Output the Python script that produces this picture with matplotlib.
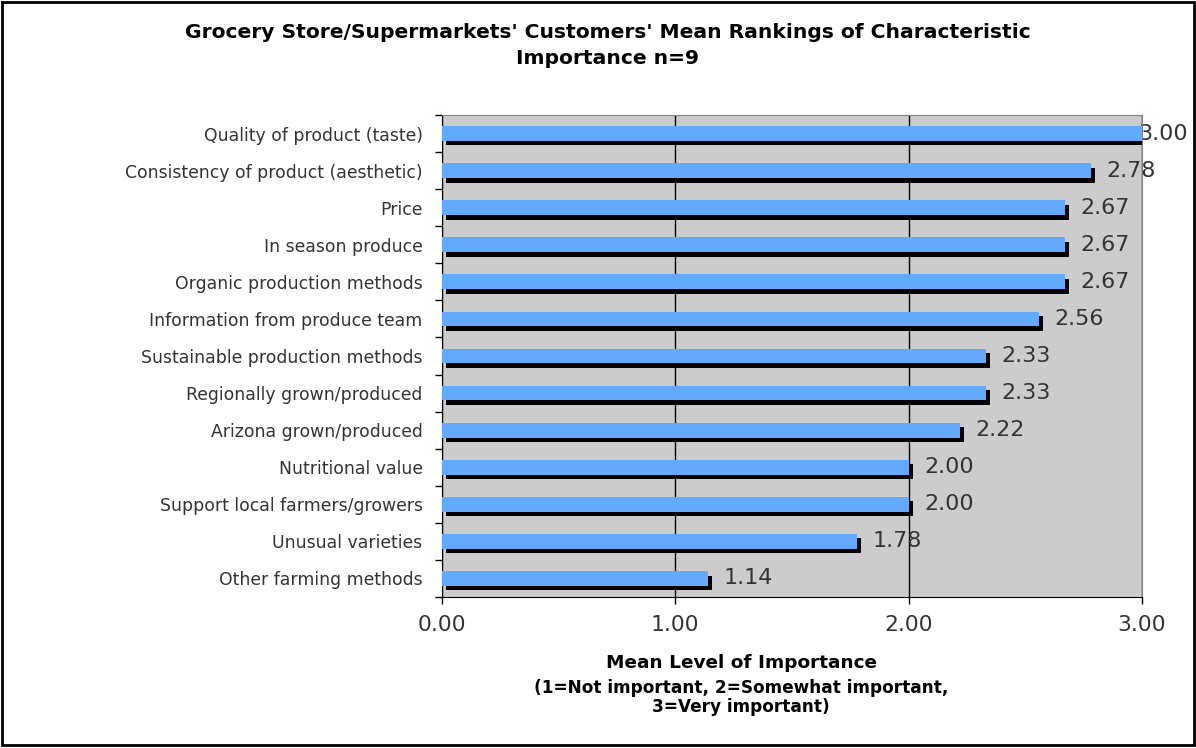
import matplotlib.pyplot as plt
import matplotlib.transforms as mtransforms

# ==== Data ====
categories = [
    "Quality of product (taste)",
    "Consistency of product (aesthetic)",
    "Price",
    "In season produce",
    "Organic production methods",
    "Information from produce team",
    "Sustainable production methods",
    "Regionally grown/produced",
    "Arizona grown/produced",
    "Nutritional value",
    "Support local farmers/growers",
    "Unusual varieties",
    "Other farming methods",
]
values = [3.00, 2.78, 2.67, 2.67, 2.67, 2.56, 2.33, 2.33, 2.22, 2.00, 2.00, 1.78, 1.14]
x_ticks = [0.0, 1.0, 2.0, 3.0]

BLUE = "#63AAFF"
GREY_BG = "#CCCCCC"
TXT = "#333333"

fig = plt.figure(figsize=(11.96, 7.48), dpi=100)
ax = fig.add_axes([442 / 1196, 151 / 748, 700 / 1196, 482 / 748])
ax.set_facecolor(GREY_BG)

# category positions, top to bottom
ypos = list(range(len(categories)))[::-1]

# shadow bars: same bars shifted right/down a few pixels
shadow = ax.transData + mtransforms.ScaledTranslation(4 / 100, -4.5 / 100, fig.dpi_scale_trans)
ax.barh(ypos, values, height=0.4, color="black", transform=shadow, zorder=2)
ax.barh(ypos, values, height=0.4, color=BLUE, zorder=3)

ax.set_xlim(0, 3)
ax.set_ylim(-0.5, len(categories) - 0.5)

# value labels
for y, v in zip(ypos, values):
    if v >= 2.99:
        ax.annotate(f"{v:.2f}", xy=(1188 / 1196, 0), xycoords=("figure fraction", "data"),
                    xytext=(0, y), textcoords=("offset points", "data"),
                    ha="right", va="center", fontsize=16, color=TXT, zorder=1)
    else:
        ax.annotate(f"{v:.2f}", xy=(v, y), xytext=(11, 0), textcoords="offset points",
                    ha="left", va="center", fontsize=16, color=TXT)

# axes styling
ax.set_xticks(x_ticks)
ax.set_xticklabels([f"{t:.2f}" for t in x_ticks], fontsize=15.7, color=TXT)
ax.xaxis.grid(True, color="black", linewidth=1)
ax.set_axisbelow(True)
ax.tick_params(axis="x", direction="out", length=5, width=1, pad=8)

ax.set_yticks(ypos)
ax.set_yticklabels(categories, fontsize=12.4, color=TXT)
ax.tick_params(axis="y", length=0, pad=14)
ax.set_yticks([i - 0.5 for i in range(len(categories) + 1)], minor=True)
ax.tick_params(axis="y", which="minor", direction="out", length=5, width=1)

for side in ["top", "right"]:
    ax.spines[side].set_color("#808080")
ax.spines["left"].set_color("black")
ax.spines["bottom"].set_color("black")

# title and axis label
fig.text(608 / 1196, 1 - 33 / 748, "Grocery Store/Supermarkets' Customers' Mean Rankings of Characteristic",
         ha="center", va="center", fontsize=14.6, fontweight="bold")
fig.text(608 / 1196, 1 - 58 / 748, "Importance n=9",
         ha="center", va="center", fontsize=14.6, fontweight="bold")
fig.text(741 / 1196, 1 - 663 / 748, "Mean Level of Importance",
         ha="center", va="center", fontsize=13.3, fontweight="bold")
fig.text(741 / 1196, 1 - 688 / 748, "(1=Not important, 2=Somewhat important,",
         ha="center", va="center", fontsize=12.2, fontweight="bold")
fig.text(741 / 1196, 1 - 707 / 748, "3=Very important)",
         ha="center", va="center", fontsize=12.2, fontweight="bold")

# outer border
fig.patches.append(plt.Rectangle((0.002, 0.004), 0.996, 0.993, transform=fig.transFigure,
                                 fill=False, edgecolor="black", linewidth=2))

plt.savefig("out.png", dpi=100)
